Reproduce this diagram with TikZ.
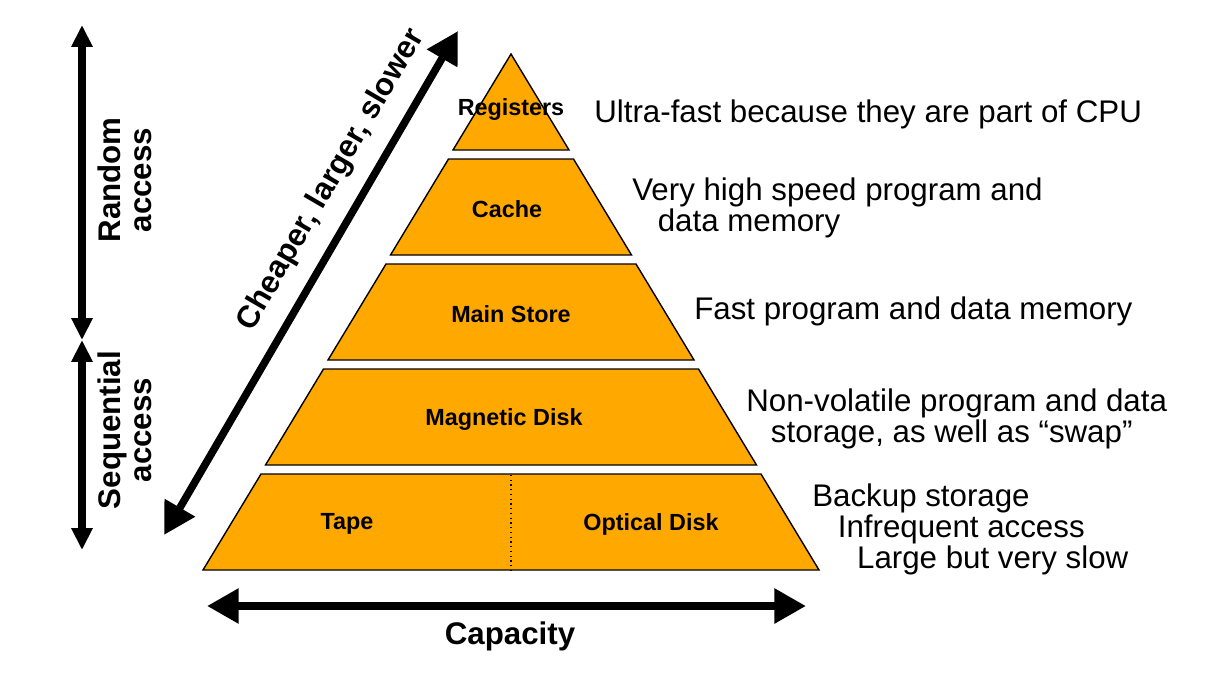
\documentclass[tikz,border=0pt]{standalone}
\usepackage{fontspec}
\setmainfont{Liberation Sans}
\usetikzlibrary{arrows.meta}
\definecolor{tierorange}{RGB}{255,168,0}

\begin{document}
\begin{tikzpicture}[x=0.02cm, y=-0.02cm,
                    line join=miter,
                    ]
    \tikzstyle{tier}=[fill=tierorange, draw=black, line width=0.8pt]
    \tikzstyle{tierlabel}=[font=\fontsize{13.3}{15}\selectfont\bfseries, inner sep=0pt]
    \tikzstyle{note}=[font=\fontsize{17.8}{17.6}\selectfont, align=left, anchor=west, inner sep=0pt]
    \tikzstyle{axislabel}=[font=\fontsize{17.8}{18}\selectfont\bfseries, align=center, inner sep=0pt]
    \tikzstyle{access}=[line width=4pt, {Triangle[width=11.5pt,length=12.5pt]}-{Triangle[width=11.5pt,length=12.5pt]}]
    \tikzstyle{bigaxis}=[line width=4.3pt, {Triangle[width=19pt,length=18pt]}-{Triangle[width=19pt,length=18pt]}]

    \useasboundingbox (0,0) rectangle (1207,694);

    % the five tiers of the pyramid
    \foreach \i in {0,...,4}
        \draw[tier] ({511-62.5*\i},{54+105*\i}) -- ({511+62.5*\i},{54+105*\i})
                 -- ({511+62.5*\i+58},{150+105*\i}) -- ({511-62.5*\i-58},{150+105*\i}) -- cycle;
    \draw[dotted, line width=0.7pt] (511,475) -- (511,572);

    \node[tierlabel] (reg) at (511,110) {Registers};
    \node[tierlabel] (cache) at (507,209) {Cache};
    \node[tierlabel] (main) at (511,314) {Main Store};
    \node[tierlabel] (disk) at (504,419) {Magnetic Disk};
    \node[tierlabel] (tape) at (347,524) {Tape};
    \node[tierlabel] (optical) at (651,524) {Optical Disk};

    % descriptions
    \node[note] (regnote) at (594,114) {Ultra-fast because they are part of CPU};
    \node[note] (cachenote) at (632,208) {Very high speed program and\\\hspace*{14.5pt}data memory};
    \node[note] (mainnote) at (694,311) {Fast program and data memory};
    \node[note] (disknote) at (746,419) {Non-volatile program and data\\\hspace*{14pt}storage, as well as “swap”};
    \node[note] (tapenote) at (812,529) {Backup storage\\\hspace*{14.5pt}Infrequent access\\\hspace*{25.5pt}Large but very slow};

    % access arrows
    \coordinate (randtop) at (82,25);
    \coordinate (split) at (82,340);
    \coordinate (seqbot) at (82,550);
    \draw[access] (split) -- (randtop);
    \draw[access] (seqbot) -- (split);
    \node[axislabel, rotate=90] (random) at (125,180) {Random\\access};
    \node[axislabel, rotate=90] (seq) at (125,430) {Sequential\\access};

    % cost arrow
    \coordinate (cheaptop) at (458,31);
    \coordinate (cheapbot) at (164,535);
    \draw[bigaxis] (cheapbot) -- (cheaptop)
        node[axislabel, pos=0.67, sloped, above=9pt] (cheap) {Cheaper, larger, slower};

    % capacity arrow
    \coordinate (capleft) at (207,606);
    \coordinate (capright) at (806,606);
    \draw[bigaxis] (capleft) -- (capright);
    \node[axislabel] (cap) at (510,636) {Capacity};
\end{tikzpicture}
\end{document}
